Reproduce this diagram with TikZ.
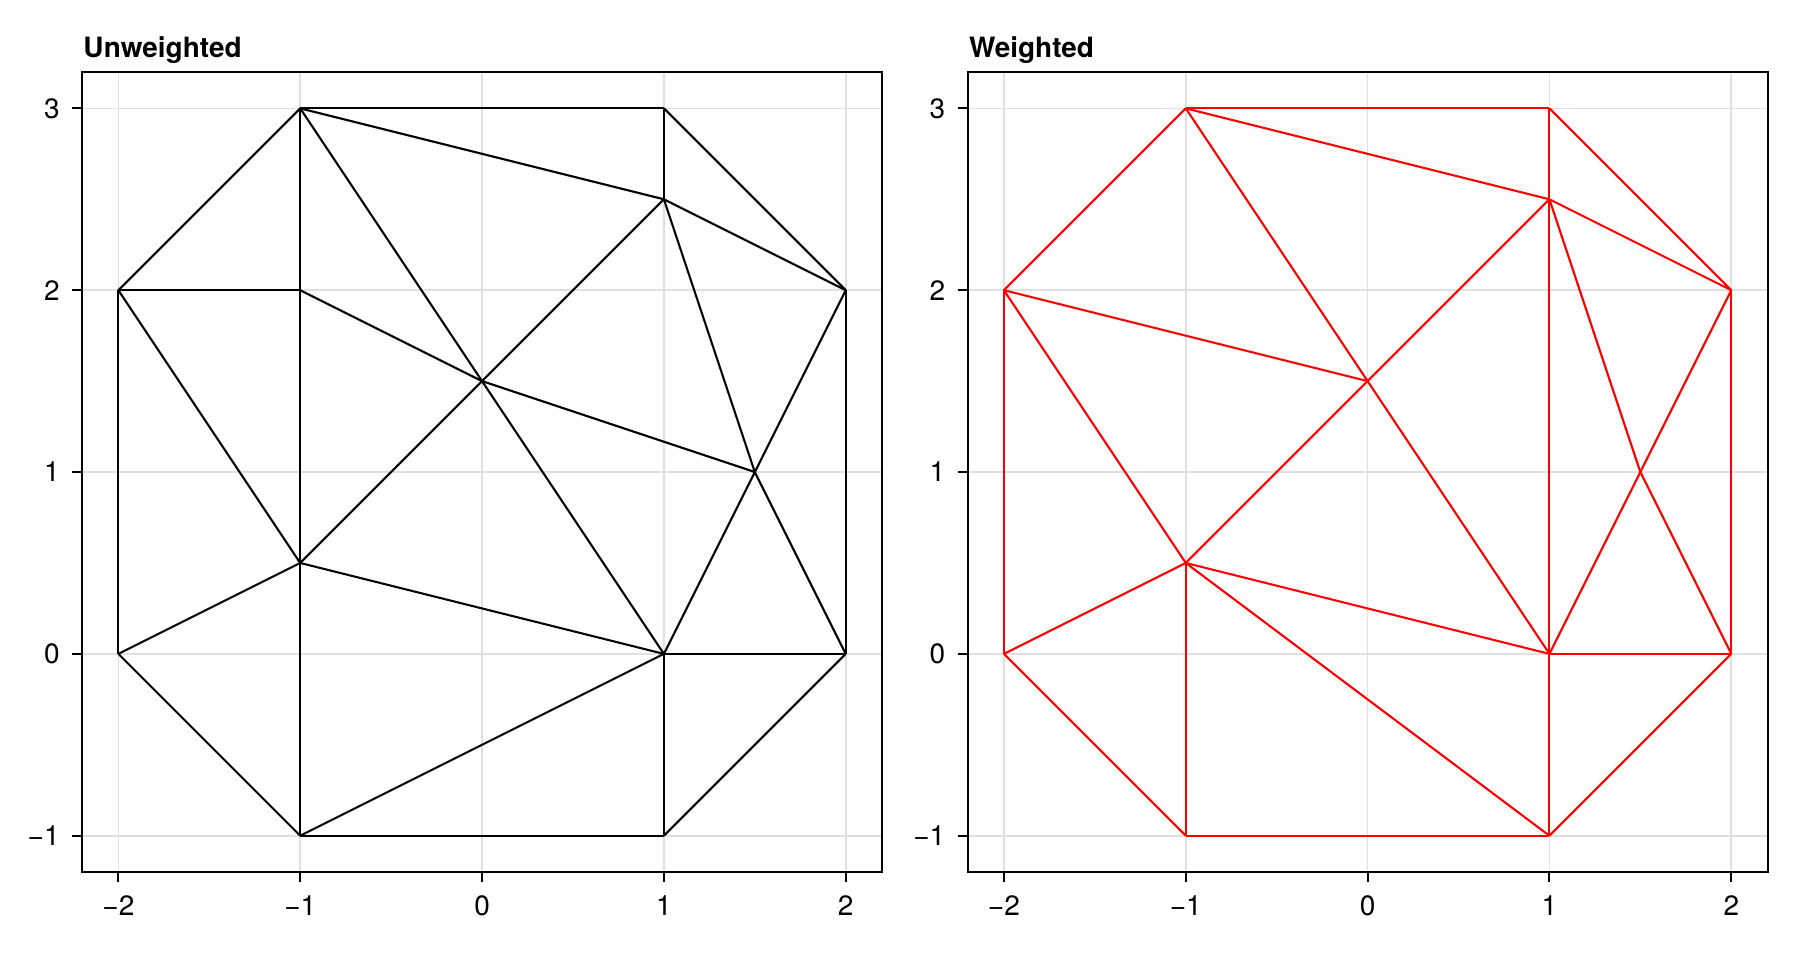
\documentclass[tikz,border=0pt]{standalone}
\usepackage{fontspec}
\setmainfont{TeX Gyre Heros}
\usetikzlibrary{positioning}

\tikzset{
  frame/.style={line width=1pt, black},
  gridline/.style={line width=0.8pt, black!12},
  tickmark/.style={line width=1pt, black},
  ticklabel/.style={font=\fontsize{14}{16}\selectfont, inner sep=0pt},
  paneltitle/.style={font=\fontsize{14}{16}\selectfont\bfseries, inner sep=0pt, anchor=base west},
  edge/.style={line width=1.05pt}
}

\begin{document}
\begin{tikzpicture}[x=3.2cm, y=3.2cm]
    \useasboundingbox (-2.651,-1.643) rectangle (7.248,3.596);

    % Two panels: shift 0 (unweighted) and 4.87 (weighted)
    \foreach \dx/\ttl/\pre in {0/Unweighted/u, 4.87/Weighted/w} {
      \begin{scope}[shift={(\dx,0)}]
        % Grid
        \foreach \x in {-2,...,2}
          \draw [gridline] (\x,-1.2) -- (\x,3.2);
        \foreach \y in {-1,...,3}
          \draw [gridline] (-2.2,\y) -- (2.2,\y);
        % Frame
        \draw [frame] (-2.2,-1.2) rectangle (2.2,3.2);
        % Ticks
        \foreach \x/\lbl in {-2/−2, -1/−1, 0/0, 1/1, 2/2} {
          \draw [tickmark] (\x,-1.2) -- (\x,-1.255);
          \node [ticklabel, anchor=base] (\pre xt\x) at (\x,-1.436) {\lbl};
        }
        \foreach \y/\lbl in {-1/−1, 0/0, 1/1, 2/2, 3/3} {
          \draw [tickmark] (-2.2,\y) -- (-2.255,\y);
          \node [ticklabel, anchor=east] (\pre yt\y) at (-2.321,\y) {\lbl};
        }
        % Title
        \node [paneltitle] (\pre title) at (-2.194,3.281) {\ttl};
        % Vertices
        \coordinate (\pre A) at (-1,3);
        \coordinate (\pre B) at (1,3);
        \coordinate (\pre C) at (1,2.5);
        \coordinate (\pre D) at (-2,2);
        \coordinate (\pre E) at (-1,2);
        \coordinate (\pre F) at (2,2);
        \coordinate (\pre G) at (0,1.5);
        \coordinate (\pre H) at (1.5,1);
        \coordinate (\pre I) at (-1,0.5);
        \coordinate (\pre J) at (-2,0);
        \coordinate (\pre K) at (1,0);
        \coordinate (\pre L) at (2,0);
        \coordinate (\pre M) at (-1,-1);
        \coordinate (\pre N) at (1,-1);
      \end{scope}
    }

    % Unweighted triangulation
    \foreach \a/\b in {A/B, A/D, A/E, A/C, A/G, B/C, B/F, D/E, D/J, D/I,
                       E/I, E/G, C/G, C/F, C/H, F/H, F/L, G/I, G/H, G/K,
                       H/K, H/L, I/J, I/K, I/M, J/M, K/L, K/M, K/N, L/N, M/N}
      \draw [edge, black] (u\a) -- (u\b);

    % Weighted triangulation
    \foreach \a/\b in {A/B, A/D, A/C, A/G, B/C, B/F, D/G, D/I, D/J, C/G,
                       C/F, C/H, C/K, F/H, F/L, G/I, G/K, H/K, H/L, I/J,
                       I/K, I/N, I/M, J/M, K/L, K/N, L/N, M/N}
      \draw [edge, red] (w\a) -- (w\b);
\end{tikzpicture}
\end{document}
